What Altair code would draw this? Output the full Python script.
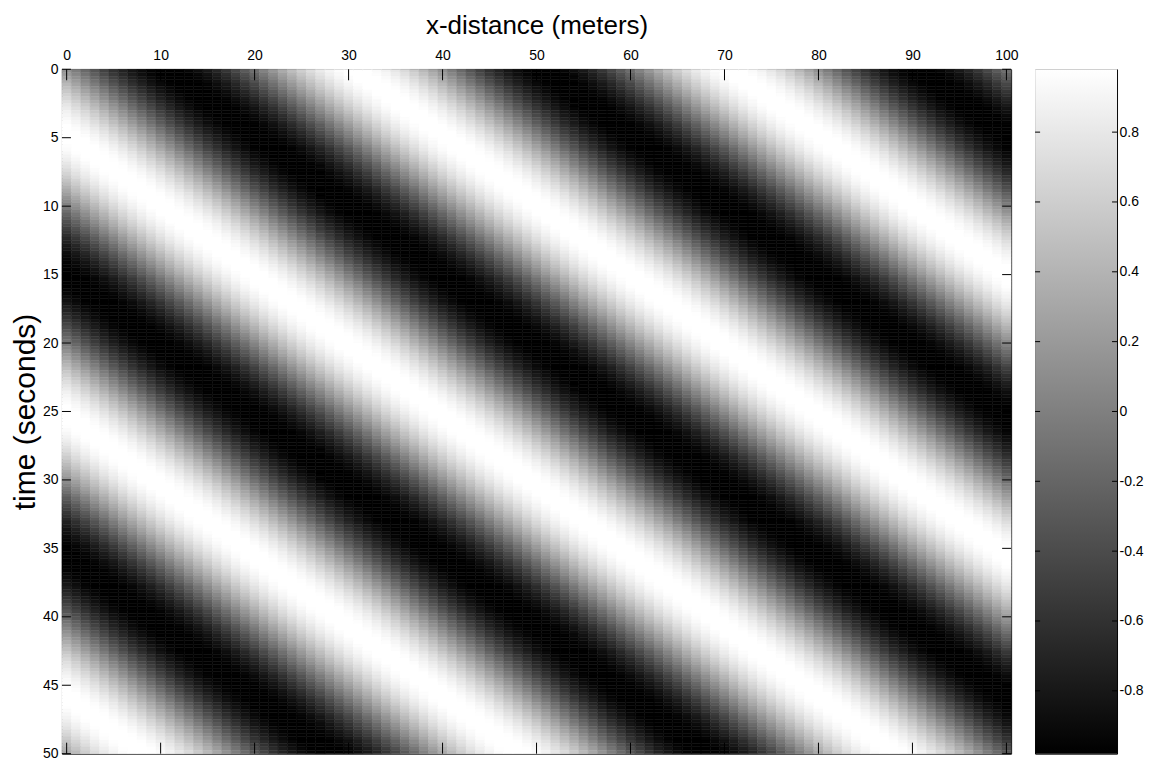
import math
import altair as alt
import pandas as pd

# ---- tick values / labels ----
x_ticks = [0, 10, 20, 30, 40, 50, 60, 70, 80, 90, 100]
t_ticks = [0, 5, 10, 15, 20, 25, 30, 35, 40, 45, 50]
cbar_ticks = [-0.8, -0.6, -0.4, -0.2, 0, 0.2, 0.4, 0.6, 0.8]

# ---- wave field ----
x_positions = list(range(0, 101))          # column centres (m)
t_step = 0.25
t_rows = [t_step * (i + 0.5) for i in range(200)]   # row centres (s)
wavelength_m = 40.0        # distance between successive white crests
speed_m_s = 1.95           # crests drift to +x
crest_time_at_x0 = 4.8     # white crest passes x=0 at this time
cmin, cmax = -0.98, 0.98   # colour bar limits

rows = []
for t in t_rows:
    for x in x_positions:
        v = math.cos(2 * math.pi * (x - speed_m_s * (t - crest_time_at_x0)) / wavelength_m)
        rows.append({"x0": x - 0.5, "x1": x + 0.5, "t0": t - t_step / 2, "t1": t + t_step / 2, "v": v})
df = pd.DataFrame(rows)

W, H = 950, 685
CW = 82

LABEL_FONT = "Liberation Sans Narrow, Liberation Sans, Arial"
TITLE_FONT = "Liberation Sans, Arial"

xscale = alt.Scale(domain=[-0.5, 100.5], nice=False, zero=False)
yscale = alt.Scale(domain=[0, 50], reverse=True, nice=False, zero=False)
cscale = alt.Scale(domain=[cmin, cmax], range=["#000000", "#ffffff"], interpolate="rgb", clamp=True)

x_axis = alt.Axis(orient="top", values=x_ticks, title="x-distance (meters)",
                  labelPadding=7, titlePadding=10, titleFontSize=26)
y_axis = alt.Axis(orient="left", values=t_ticks, title="time (seconds)",
                  labelPadding=4, titlePadding=2, titleFontSize=30)

heat = alt.Chart(df).mark_rect(strokeWidth=0.5).encode(
    x=alt.X("x0:Q", scale=xscale, axis=x_axis),
    x2="x1:Q",
    y=alt.Y("t0:Q", scale=yscale, axis=y_axis),
    y2="t1:Q",
    fill=alt.Fill("v:Q", scale=cscale, legend=None),
    stroke=alt.Stroke("v:Q", scale=cscale, legend=None),
)

xt = pd.DataFrame({"xt": x_ticks})
yt = pd.DataFrame({"yt": t_ticks})
top_ticks = alt.Chart(xt).mark_rule(color="black", strokeWidth=1).encode(
    x=alt.X("xt:Q", scale=xscale, axis=x_axis), y=alt.value(0), y2=alt.value(11))
bottom_ticks = alt.Chart(xt).mark_rule(color="black", strokeWidth=1).encode(
    x=alt.X("xt:Q", scale=xscale, axis=x_axis), y=alt.value(H - 11), y2=alt.value(H))
left_ticks = alt.Chart(yt).mark_rule(color="black", strokeWidth=1).encode(
    y=alt.Y("yt:Q", scale=yscale, axis=y_axis), x=alt.value(0), x2=alt.value(9))
right_ticks = alt.Chart(yt).mark_rule(color="black", strokeWidth=1).encode(
    y=alt.Y("yt:Q", scale=yscale, axis=y_axis), x=alt.value(W - 9), x2=alt.value(W))

main = alt.layer(heat, top_ticks, bottom_ticks, left_ticks, right_ticks).properties(width=W, height=H)

# ---- colour bar ----
cbscale = alt.Scale(domain=[cmin, cmax], nice=False, zero=False)
cb_axis = alt.Axis(orient="right", values=cbar_ticks, title=None, labelPadding=2,
                   labelExpr="toString(datum.value)")
cb_df = pd.DataFrame({"lo": [cmin], "hi": [cmax]})
grad = alt.LinearGradient(
    gradient="linear",
    stops=[alt.GradientStop(color="#000000", offset=0), alt.GradientStop(color="#ffffff", offset=1)],
    x1=0, x2=0, y1=1, y2=0,
)
cbar_rect = alt.Chart(cb_df).mark_rect(fill=grad).encode(
    x=alt.value(0), x2=alt.value(CW),
    y=alt.Y("lo:Q", scale=cbscale, axis=cb_axis),
    y2="hi:Q",
)
ct = pd.DataFrame({"ct": cbar_ticks})
cb_lt = alt.Chart(ct).mark_rule(color="black", strokeWidth=1).encode(
    y=alt.Y("ct:Q", scale=cbscale, axis=cb_axis), x=alt.value(0), x2=alt.value(5))
cb_rt = alt.Chart(ct).mark_rule(color="black", strokeWidth=1).encode(
    y=alt.Y("ct:Q", scale=cbscale, axis=cb_axis), x=alt.value(CW - 5), x2=alt.value(CW))
cbar = alt.layer(cbar_rect, cb_lt, cb_rt).properties(width=CW, height=H)

chart = alt.hconcat(main, cbar, spacing=24, bounds="flush").properties(
    padding={"left": 1, "top": 3, "right": 5, "bottom": 0},
    background="white",
).configure_view(
    stroke="#000000", strokeWidth=1
).configure_axis(
    domain=False, ticks=False, grid=False, labelFlush=False, labelOverlap=False,
    labelFont=LABEL_FONT, labelFontSize=14, labelColor="#000000",
    titleFont=TITLE_FONT, titleFontWeight="normal", titleColor="#000000",
)

chart.save("out.html", embed_options={"renderer": "svg", "actions": False})
